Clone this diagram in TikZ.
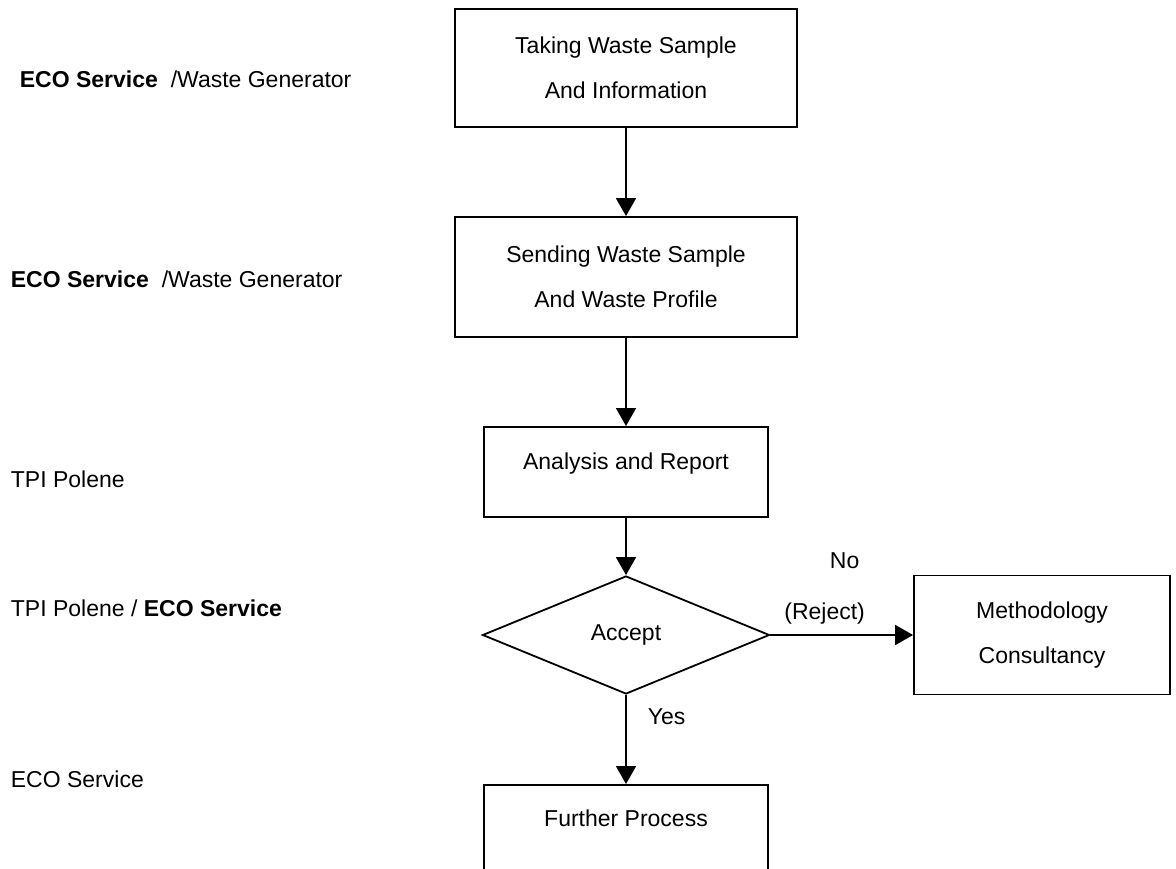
\documentclass[tikz,border=0pt]{standalone}
\usepackage{fontspec}
\setmainfont{Liberation Sans}
\usetikzlibrary{shapes.geometric,arrows.meta,positioning}
\begin{document}
\begin{tikzpicture}[x=1pt,y=-1pt,line width=1.8pt,
  every node/.style={font=\fontsize{23}{45}\selectfont},
  box/.style={draw,rectangle,align=center,inner sep=0pt},
  lowbox/.style={draw,rectangle,inner sep=0pt,minimum width=284pt,text height=43pt,text depth=47pt},
  decide/.style={draw,diamond,minimum width=287pt,minimum height=118pt,inner sep=0pt},
  side/.style={anchor=west,inner sep=0pt},
  lbl/.style={inner sep=2pt},
  arr/.style={-{Triangle[length=18pt,width=20pt]}}]
        \useasboundingbox (0,0) rectangle (1176,869);
        \clip (0,0) rectangle (1176,869);
        % who does it
        \draw (19,79) node[side](who1){\textbf{ECO Service}\ \ /Waste Generator};
        \draw (10,279) node[side](who2){\textbf{ECO Service}\ \ /Waste Generator};
        \draw (10,479) node[side](who3){TPI Polene};
        \draw (10,608) node[side](who4){TPI Polene / \textbf{ECO Service}};
        \draw (10,779) node[side](who5){ECO Service};
        % steps
        \draw (626,68) node[box,minimum width=342pt,minimum height=118pt](take){Taking Waste Sample\\And Information};
        \draw (626,277) node[box,minimum width=342pt,minimum height=120pt](send){Sending Waste Sample\\And Waste Profile};
        \draw (626,426) node[lowbox,anchor=north](anal){Analysis and Report};
        \draw (626,635) node[decide](acc){Accept};
        \draw (1042,635) node[box,minimum width=256pt,minimum height=119pt](meth){Methodology\\Consultancy};
        \draw (626,784) node[lowbox,anchor=north,text height=42pt](fur){Further Process};
        \draw[arr] (take) -- (send);
        \draw[arr] (send) -- (anal);
        \draw[arr] (anal) -- (acc);
        \draw[arr] (acc) -- node[lbl,pos=0.38,above=8pt](rej){(Reject)} (meth);
        \draw (rej.north) node[lbl,anchor=south,xshift=20pt,yshift=28pt](no){No};
        \draw[arr] (acc) -- node[lbl,pos=0.25,right=19pt](yes){Yes} (fur);
      \end{tikzpicture}
\end{document}
